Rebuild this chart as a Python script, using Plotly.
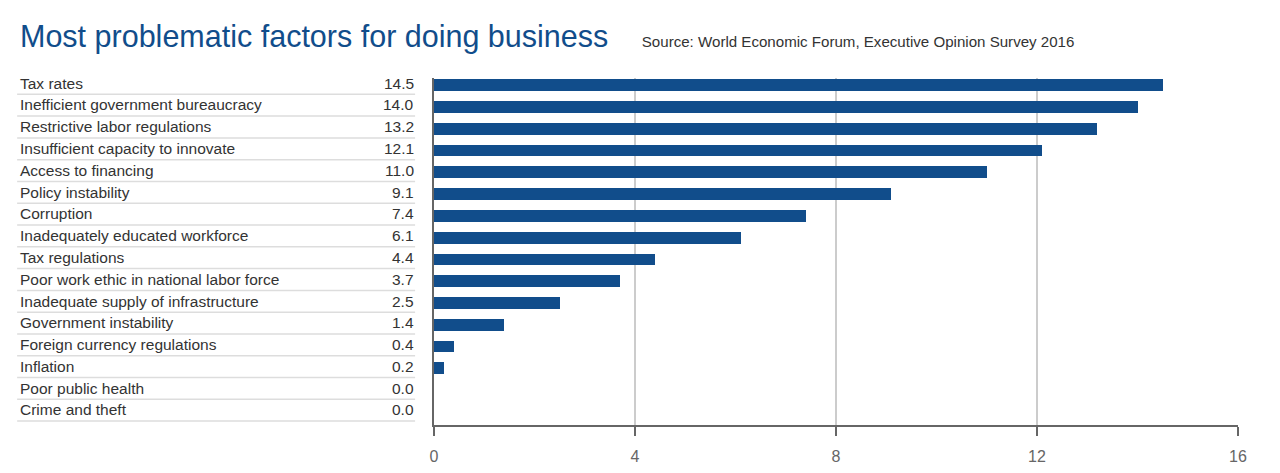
import plotly.graph_objects as go

# survey data, in the order shown top to bottom
factors = [
    "Tax rates",
    "Inefficient government bureaucracy",
    "Restrictive labor regulations",
    "Insufficient capacity to innovate",
    "Access to financing",
    "Policy instability",
    "Corruption",
    "Inadequately educated workforce",
    "Tax regulations",
    "Poor work ethic in national labor force",
    "Inadequate supply of infrastructure",
    "Government instability",
    "Foreign currency regulations",
    "Inflation",
    "Poor public health",
    "Crime and theft",
]
scores = [14.5, 14.0, 13.2, 12.1, 11.0, 9.1, 7.4, 6.1, 4.4, 3.7, 2.5, 1.4, 0.4, 0.2, 0.0, 0.0]
x_ticks = [0, 4, 8, 12, 16]

BLUE = "#114d8b"
FONT = "Liberation Sans, Arial, sans-serif"

# the page body has an 8px margin, so the figure is a bit smaller than the window
W, H = 1264, 465

rows = list(range(len(factors)))

fig = go.Figure(go.Bar(
    x=scores,
    y=rows,
    orientation="h",
    width=0.54,
    marker=dict(color=BLUE, line=dict(width=0)),
    hovertext=factors,
))

# left hand table: label, value and a thin rule under each row
for i, (name, val) in enumerate(zip(factors, scores)):
    fig.add_annotation(x=-0.5175, y=i, xref="paper", yref="y", text=name,
                       showarrow=False, xanchor="left", yanchor="middle", yshift=2,
                       font=dict(family=FONT, size=15.5, color="#333333"))
    fig.add_annotation(x=-0.0225, y=i, xref="paper", yref="y", text=f"{val:.1f}",
                       showarrow=False, xanchor="right", yanchor="middle", yshift=2,
                       font=dict(family=FONT, size=15.5, color="#333333"))
    fig.add_shape(type="line", xref="paper", yref="y",
                  x0=-0.5185, x1=-0.0235, y0=i + 0.42, y1=i + 0.42,
                  line=dict(color="#dddddd", width=1.5))

fig.update_layout(
    width=W,
    height=H,
    margin=dict(l=426, r=34, t=70, b=48, autoexpand=False),
    paper_bgcolor="white",
    plot_bgcolor="white",
    showlegend=False,
    bargap=0,
    font=dict(family=FONT),
    title=dict(
        text="Most problematic factors for doing business"
             "<span style='font-size:15.1px;color:#333333'>"
             "&nbsp;&nbsp;&nbsp;&nbsp;&nbsp;&nbsp;&nbsp;&nbsp;Source: World Economic Forum, Executive Opinion Survey 2016</span>",
        x=12 / W, xanchor="left", y=1 - 28 / H, yanchor="middle",
        font=dict(family=FONT, size=30.5, color=BLUE),
    ),
    xaxis=dict(
        range=[0, 16],
        tickvals=x_ticks,
        ticks="outside",
        ticklen=9,
        tickwidth=1.5,
        tickcolor="#666666",
        ticklabelstandoff=7,
        automargin=False,
        showline=True,
        linecolor="#666666",
        linewidth=1.5,
        showgrid=True,
        gridcolor="#cccccc",
        gridwidth=1.5,
        zeroline=False,
        tickfont=dict(family=FONT, size=16, color="#666666"),
        fixedrange=True,
    ),
    yaxis=dict(
        range=[15.6, -0.33],
        showticklabels=False,
        showgrid=False,
        zeroline=False,
        showline=True,
        linecolor="#666666",
        linewidth=1.5,
        ticks="",
        automargin=False,
        fixedrange=True,
    ),
)

fig.write_html("out.html")
